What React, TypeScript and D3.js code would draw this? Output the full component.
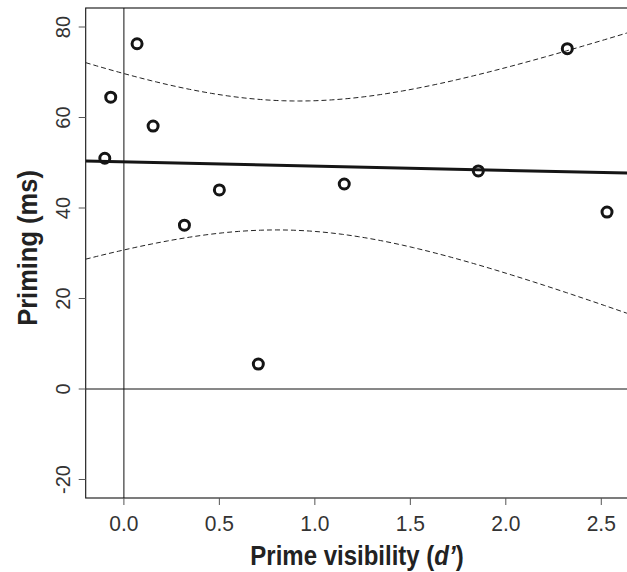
import React from "react";
import * as d3 from "d3";

const visibility = [-0.1, -0.069, 0.069, 0.153, 0.317, 0.5, 0.704, 1.154, 1.856, 2.322, 2.53];
const priming = [51.0, 64.5, 76.3, 58.1, 36.2, 44.0, 5.5, 45.3, 48.2, 75.2, 39.1];
const xTicks = [0, 0.5, 1.0, 1.5, 2.0, 2.5];
const yTicks = [-20, 0, 20, 40, 60, 80];
const tCrit = 2.262; // t(0.975, df = 9)

const W = 627, H = 572;
const M = { left: 85.7, right: 630, top: 8, bottom: 498 };

export default function App() {
  const x = d3.scaleLinear().domain([-0.2, 2.66]).range([M.left, M.left + 2.86 * 190.96]);
  const y = d3.scaleLinear().domain([0, 80]).range([389, 27]);

  const n = visibility.length;
  const mx = d3.mean(visibility)!;
  const my = d3.mean(priming)!;
  const sxx = d3.sum(visibility, (v) => (v - mx) ** 2);
  const sxy = d3.sum(visibility, (v, i) => (v - mx) * (priming[i] - my));
  const b = sxy / sxx;
  const a = my - b * mx;
  const rss = d3.sum(visibility, (v, i) => (priming[i] - (a + b * v)) ** 2);
  const s = Math.sqrt(rss / (n - 2));

  const [x0, x1] = x.domain();
  const grid = d3.range(0, 101).map((k) => x0 + ((x1 - x0) * k) / 100);
  const half = (v: number) => tCrit * s * Math.sqrt(1 / n + (v - mx) ** 2 / sxx);
  const line = d3.line<[number, number]>().x((d) => x(d[0])).y((d) => y(d[1]));
  const upper = line(grid.map((v) => [v, a + b * v + half(v)]));
  const lower = line(grid.map((v) => [v, a + b * v - half(v)]));
  const fit = line([[x0, a + b * x0], [x1, a + b * x1]]);

  const font = "Liberation Sans, Arial, Helvetica, sans-serif";

  return (
    <svg width={W} height={H} style={{ position: "absolute", left: 0, top: 0, display: "block" }}>
      <rect width={W} height={H} fill="white" />
      <defs>
        <clipPath id="plot">
          <rect x={M.left} y={M.top} width={M.right - M.left} height={M.bottom - M.top} />
        </clipPath>
      </defs>
      <rect x={M.left} y={M.top} width={M.right - M.left} height={M.bottom - M.top} fill="none" stroke="#111" strokeWidth={1.1} />
      <g clipPath="url(#plot)">
        <line x1={x(0)} x2={x(0)} y1={M.top} y2={M.bottom} stroke="#111" strokeWidth={1} />
        <line x1={M.left} x2={M.right} y1={y(0)} y2={y(0)} stroke="#111" strokeWidth={1} />
        <path d={upper!} fill="none" stroke="#222" strokeWidth={1} strokeDasharray="5,3" />
        <path d={lower!} fill="none" stroke="#222" strokeWidth={1} strokeDasharray="5,3" />
        <path d={fit!} fill="none" stroke="#151515" strokeWidth={3} />
        {visibility.map((v, i) => (
          <circle key={i} cx={x(v)} cy={y(priming[i])} r={5} fill="none" stroke="#151515" strokeWidth={3} />
        ))}
      </g>
      {xTicks.map((t) => (
        <g key={t}>
          <line x1={x(t)} x2={x(t)} y1={M.bottom} y2={M.bottom + 7} stroke="#555" strokeWidth={1} />
          <text
            transform={`translate(${x(t)},${531}) scale(1,1.08)`}
            textAnchor="middle"
            fontFamily={font}
            fontSize={21}
            fill="#333"
          >
            {d3.format(".1f")(t)}
          </text>
        </g>
      ))}
      {yTicks.map((t) => (
        <g key={t}>
          <line x1={M.left} x2={M.left - 7} y1={y(t)} y2={y(t)} stroke="#555" strokeWidth={1} />
          <text
            transform={`translate(${70},${y(t)}) rotate(-90)`}
            textAnchor="middle"
            fontFamily={font}
            fontSize={20}
            fill="#333"
          >
            {t}
          </text>
        </g>
      ))}
      <text
        transform={`translate(${357},${565}) scale(1,1.12)`}
        textAnchor="middle"
        fontFamily={font}
        fontSize={24}
        fontWeight="bold"
        fill="#222"
      >
        Prime visibility (<tspan fontStyle="italic">d’</tspan>)
      </text>
      <text
        transform={`translate(${37},${248}) rotate(-90) scale(1,1.05)`}
        textAnchor="middle"
        fontFamily={font}
        fontSize={25.5}
        fontWeight="bold"
        fill="#222"
      >
        Priming (ms)
      </text>
    </svg>
  );
}
